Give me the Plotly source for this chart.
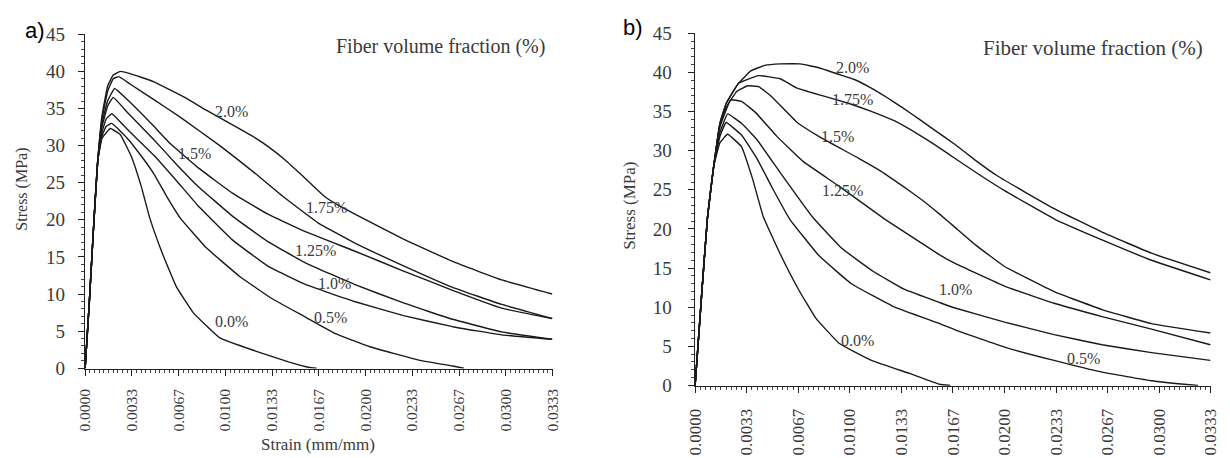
import plotly.graph_objects as go

# ---------------- data ----------------
x_tick_text = ["0.0000", "0.0033", "0.0067", "0.0100", "0.0133", "0.0167",
               "0.0200", "0.0233", "0.0267", "0.0300", "0.0333"]
y_tick_vals = [0, 5, 10, 15, 20, 25, 30, 35, 40, 45]
fraction_labels = ["0.0%", "0.5%", "1.0%", "1.25%", "1.5%", "1.75%", "2.0%"]

# panel a) strain (mm/mm) / stress (MPa)
a_x_00 = [0, 0.0003, 0.0006, 0.0009, 0.0012, 0.0018, 0.0025, 0.0033, 0.0040, 0.0046, 0.0055, 0.0065, 0.0077, 0.0096, 0.0121, 0.0145, 0.0160, 0.0165]
a_y_00 = [0, 9, 19, 28, 31, 32.3, 31.5, 28.5, 24.5, 20.3, 15.5, 11.0, 7.5, 4.1, 2.35, 0.86, 0.1, 0]
a_x_05 = [0, 0.0003, 0.0006, 0.0009, 0.0012, 0.0015, 0.0019, 0.0030, 0.0040, 0.0049, 0.0058, 0.0068, 0.0086, 0.0110, 0.0133, 0.0157, 0.0178, 0.0203, 0.0238, 0.0262, 0.0270]
a_y_05 = [0, 9, 19, 28, 31.3, 32.6, 33.0, 31.0, 28.6, 26.2, 23.2, 20.2, 16.3, 12.4, 9.4, 6.9, 4.7, 2.9, 1.1, 0.3, 0]
a_x_10 = [0, 0.0003, 0.0006, 0.0009, 0.0012, 0.0015, 0.0019, 0.0030, 0.0049, 0.0065, 0.0080, 0.0105, 0.0130, 0.0157, 0.0192, 0.0227, 0.0262, 0.0297, 0.0333]
a_y_10 = [0, 9, 19, 28, 31.8, 33.6, 34.3, 32.2, 28.7, 25.3, 22.0, 17.3, 13.8, 11.3, 9.0, 7.1, 5.6, 4.5, 3.9]
a_x_125 = [0, 0.0003, 0.0006, 0.0009, 0.0012, 0.0016, 0.0020, 0.0030, 0.0049, 0.0065, 0.0080, 0.0105, 0.0130, 0.0157, 0.0192, 0.0227, 0.0262, 0.0297, 0.0333]
a_y_125 = [0, 9, 19, 28, 32.5, 35.3, 36.5, 34.5, 30.8, 27.5, 24.6, 20.5, 17.1, 14.2, 11.3, 8.8, 6.6, 4.9, 3.9]
a_x_15 = [0, 0.0003, 0.0006, 0.0009, 0.0012, 0.0016, 0.0021, 0.0030, 0.0049, 0.0061, 0.0080, 0.0105, 0.0130, 0.0157, 0.0192, 0.0227, 0.0262, 0.0297, 0.0333]
a_y_15 = [0, 9, 19, 28, 33, 36, 37.7, 36.2, 32.6, 30.2, 27.1, 23.6, 20.8, 18.4, 15.8, 13.1, 10.5, 8.1, 6.7]
a_x_175 = [0, 0.0003, 0.0006, 0.0009, 0.0012, 0.0016, 0.0020, 0.0024, 0.0032, 0.0049, 0.0068, 0.0096, 0.0119, 0.0142, 0.0166, 0.0192, 0.0227, 0.0262, 0.0297, 0.0333]
a_y_175 = [0, 9, 19, 28, 33.5, 37.3, 39, 39.3, 38.3, 36.2, 33.8, 30.0, 26.6, 23.0, 19.6, 16.9, 13.8, 10.9, 8.6, 6.7]
a_x_20 = [0, 0.0003, 0.0006, 0.0009, 0.0012, 0.0016, 0.0020, 0.0025, 0.0032, 0.0049, 0.0072, 0.0086, 0.0107, 0.0119, 0.0131, 0.0143, 0.0154, 0.0163, 0.0171, 0.0181, 0.0192, 0.0227, 0.0262, 0.0297, 0.0333]
a_y_20 = [0, 9, 19, 28, 34, 38, 39.5, 40, 39.7, 38.6, 36.4, 34.8, 32.6, 31.3, 29.8, 28.0, 26.1, 24.5, 23.1, 21.9, 20.8, 17.4, 14.4, 11.9, 10.0]

# panel b)
b_x_00 = [0, 0.0004, 0.0008, 0.0012, 0.0016, 0.0021, 0.0030, 0.0037, 0.0044, 0.0055, 0.0067, 0.0078, 0.0093, 0.0114, 0.0139, 0.0158, 0.0165]
b_y_00 = [0, 11, 21.5, 28, 31, 32.1, 30.5, 26.5, 21.6, 16.8, 12.2, 8.6, 5.4, 3.2, 1.5, 0.15, 0]
b_x_05 = [0, 0.0004, 0.0008, 0.0012, 0.0016, 0.0020, 0.0030, 0.0040, 0.0050, 0.0061, 0.0080, 0.0101, 0.0129, 0.0158, 0.0168, 0.0200, 0.0232, 0.0263, 0.0295, 0.0316, 0.0325]
b_y_05 = [0, 11, 21.5, 28, 31.8, 33.6, 32.0, 29.0, 25.2, 21.3, 16.6, 13.0, 10.0, 7.9, 7.1, 4.9, 3.2, 1.7, 0.6, 0.15, 0]
b_x_10 = [0, 0.0004, 0.0008, 0.0012, 0.0016, 0.0021, 0.0030, 0.0040, 0.0055, 0.0076, 0.0095, 0.0115, 0.0135, 0.0158, 0.0168, 0.0200, 0.0232, 0.0263, 0.0295, 0.0333]
b_y_10 = [0, 11, 21.5, 28, 32.3, 34.7, 33.5, 31.4, 27.2, 21.5, 17.5, 14.6, 12.3, 10.6, 9.9, 8.1, 6.5, 5.2, 4.2, 3.2]
b_x_125 = [0, 0.0004, 0.0008, 0.0012, 0.0016, 0.0023, 0.0030, 0.0039, 0.0053, 0.0070, 0.0092, 0.0123, 0.0158, 0.0168, 0.0200, 0.0232, 0.0263, 0.0295, 0.0333]
b_y_125 = [0, 11, 21.5, 28, 33, 36.5, 36.3, 34.9, 31.8, 28.6, 25.6, 21.2, 16.7, 15.6, 12.7, 10.5, 8.8, 7.2, 5.2]
b_x_15 = [0, 0.0004, 0.0008, 0.0012, 0.0016, 0.0020, 0.0027, 0.0034, 0.0041, 0.0049, 0.0066, 0.0081, 0.0106, 0.0120, 0.0134, 0.0146, 0.0158, 0.0168, 0.0181, 0.0200, 0.0232, 0.0263, 0.0295, 0.0333]
b_y_15 = [0, 11, 21.5, 28, 33.3, 35.5, 37.6, 38.3, 38.2, 37.0, 33.6, 31.7, 29.0, 27.4, 25.5, 23.8, 21.9, 20.2, 18.0, 15.2, 12.0, 9.7, 7.9, 6.7]
b_x_175 = [0, 0.0004, 0.0008, 0.0012, 0.0016, 0.0020, 0.0028, 0.0041, 0.0055, 0.0066, 0.0081, 0.0100, 0.0113, 0.0129, 0.0145, 0.0157, 0.0168, 0.0184, 0.0200, 0.0232, 0.0263, 0.0295, 0.0333]
b_y_175 = [0, 11, 21.5, 28, 33.5, 36, 38.6, 39.6, 39.2, 38.0, 37.1, 36.0, 35.1, 33.8, 32.0, 30.5, 29.0, 26.9, 24.9, 21.3, 18.6, 16.0, 13.5]
b_x_20 = [0, 0.0004, 0.0008, 0.0012, 0.0016, 0.0020, 0.0028, 0.0036, 0.0045, 0.0055, 0.0068, 0.0080, 0.0092, 0.0103, 0.0113, 0.0124, 0.0134, 0.0145, 0.0155, 0.0168, 0.0181, 0.0196, 0.0232, 0.0263, 0.0295, 0.0333]
b_y_20 = [0, 11, 21.5, 28, 33.5, 36, 38.6, 40.2, 40.9, 41.1, 41.1, 40.6, 39.8, 39.1, 38.1, 36.8, 35.5, 34.0, 32.6, 30.8, 28.8, 26.7, 22.6, 19.6, 16.9, 14.4]

panel_a = [(a_x_00, a_y_00), (a_x_05, a_y_05), (a_x_10, a_y_10), (a_x_125, a_y_125),
           (a_x_15, a_y_15), (a_x_175, a_y_175), (a_x_20, a_y_20)]
panel_b = [(b_x_00, b_y_00), (b_x_05, b_y_05), (b_x_10, b_y_10), (b_x_125, b_y_125),
           (b_x_15, b_y_15), (b_x_175, b_y_175), (b_x_20, b_y_20)]

# ---------------- figure ----------------
SERIF = "Liberation Serif, Times New Roman, serif"
SANS = "Liberation Sans, Arial, sans-serif"
TXT = "#3a3a3a"

fig = go.Figure()
for (xs, ys), name in zip(panel_a, fraction_labels):
    fig.add_trace(go.Scatter(x=xs, y=ys, mode="lines", name=name, xaxis="x", yaxis="y",
                             line=dict(color="#1a1a1a", width=1.4, shape="spline", smoothing=0.3),
                             showlegend=False))
for (xs, ys), name in zip(panel_b, fraction_labels):
    fig.add_trace(go.Scatter(x=xs, y=ys, mode="lines", name=name, xaxis="x2", yaxis="y2",
                             line=dict(color="#1a1a1a", width=1.4, shape="spline", smoothing=0.3),
                             showlegend=False))

x_tick_vals = [i / 300 for i in range(len(x_tick_text))]
W, H = 1230, 458


def xaxis(domain, anchor, fsize, standoff):
    return dict(domain=domain, anchor=anchor, range=[-0.00002, x_tick_vals[-1] + 0.00002],
                tickmode="array", tickvals=x_tick_vals, ticktext=x_tick_text, tickangle=-90,
                ticks="outside", ticklen=6, tickwidth=1, tickcolor="#222",
                showline=True, linecolor="#222", linewidth=1.3, showgrid=False, zeroline=False,
                tickfont=dict(family=SERIF, size=fsize, color=TXT), ticklabelstandoff=standoff,
                minor=dict(ticks="outside", ticklen=3, tickwidth=1, tickcolor="#444",
                           tickmode="linear", tick0=0, dtick=1 / 3000, showgrid=False))


def yaxis(domain, anchor, standoff):
    return dict(domain=domain, anchor=anchor, range=[-0.05, 45.05],
                tickmode="array", tickvals=y_tick_vals,
                ticks="outside", ticklen=6, tickwidth=1, tickcolor="#222",
                showline=True, linecolor="#222", linewidth=1.3, showgrid=False, zeroline=False,
                tickfont=dict(family=SERIF, size=19, color=TXT), ticklabelstandoff=standoff,
                minor=dict(ticks="outside", ticklen=3, tickwidth=1, tickcolor="#444",
                           tickmode="linear", tick0=0, dtick=1, showgrid=False))


fig.update_layout(
    width=W, height=H, margin=dict(l=0, r=0, t=0, b=0),
    paper_bgcolor="white", plot_bgcolor="white",
    xaxis=xaxis([77 / W, 552 / W], "y", 15.5, 7),
    yaxis=yaxis([1 - 375 / H, 1 - 25 / H], "x", 9),
    xaxis2=xaxis([696 / W, 1220 / W], "y2", 17, 9),
    yaxis2=yaxis([1 - 393 / H, 1 - 24 / H], "x2", 12),
)

ann = []
# curve labels panel a
labels_a = [("2.0%", 0.0104, 34.6), ("1.5%", 0.0078, 29.0), ("1.75%", 0.0172, 21.6),
            ("1.25%", 0.0164, 15.8), ("1.0%", 0.0178, 11.4), ("0.5%", 0.0175, 6.9),
            ("0.0%", 0.0104, 6.3)]
for t, x, y in labels_a:
    ann.append(dict(text=t, x=x, y=y, xref="x", yref="y", showarrow=False,
                    xanchor="center", yanchor="middle",
                    font=dict(family=SERIF, size=16, color=TXT)))
labels_b = [("2.0%", 0.0102, 40.6), ("1.75%", 0.0102, 36.6), ("1.5%", 0.0092, 31.8),
            ("1.25%", 0.0095, 24.9), ("1.0%", 0.0168, 12.2), ("0.5%", 0.0251, 3.5),
            ("0.0%", 0.0105, 5.7)]
for t, x, y in labels_b:
    ann.append(dict(text=t, x=x, y=y, xref="x2", yref="y2", showarrow=False,
                    xanchor="center", yanchor="middle",
                    font=dict(family=SERIF, size=16, color=TXT)))


def paper_text(text, px, py, size, family=SERIF, color=TXT, angle=0):
    return dict(text=text, x=px / W, y=1 - py / H, xref="paper", yref="paper",
                xanchor="center", yanchor="middle", textangle=angle, showarrow=False,
                font=dict(family=family, size=size, color=color))


ann += [
    paper_text("Fiber volume fraction (%)", 438, 38, 20),
    paper_text("Fiber volume fraction (%)", 1100, 40, 21),
    paper_text("Strain (mm/mm)", 314, 454, 17),
    paper_text("Stress (MPa)", 13, 187, 16, angle=-90),
    paper_text("Stress (MPa)", 629, 205, 17, angle=-90),
    paper_text("a)", 26, 21, 22, family=SANS, color="#000"),
    paper_text("b)", 633, 18, 22, family=SANS, color="#000"),
]
fig.update_layout(annotations=ann)

fig.write_html("out.html")
